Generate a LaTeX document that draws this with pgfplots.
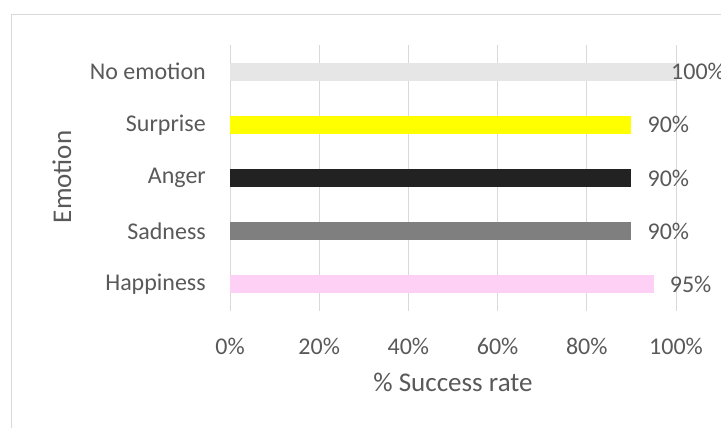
\documentclass[border=0pt]{standalone}
\usepackage{pgfplots}
\pgfplotsset{compat=1.18}
\usepackage{fontspec}
\setmainfont{Carlito}
\definecolor{txt}{HTML}{595959}
\definecolor{gridc}{HTML}{D9D9D9}
\definecolor{noemo}{HTML}{E7E6E6}
\definecolor{surp}{HTML}{FFFF00}
\definecolor{angr}{HTML}{222222}
\definecolor{sadn}{HTML}{7F7F7F}
\definecolor{happ}{HTML}{FFD0F5}
\begin{document}
\begin{tikzpicture}[x=1pt,y=1pt]
\useasboundingbox (0,0) rectangle (721,428);
\draw[color=gridc, line width=1pt] (11,0) -- (11,413) -- (721,413);
\begin{axis}[
  at={(230pt,117pt)}, anchor=south west,
  scale only axis, width=446pt, height=266pt,
  xbar, bar width=18pt, bar shift=0pt,
  xmin=0, xmax=100, ymin=-0.5, ymax=4.5,
  clip=false,
  axis line style={draw=none},
  major tick length=0pt,
  tick style={draw=none},
  xmajorgrids, major grid style={color=gridc, line width=1pt},
  xtick={0,20,...,100},
  xticklabel={\pgfmathprintnumber[assume math mode=true]{\tick}\%},
  ytick={0,1,2,3,4},
  yticklabels={Happiness,Sadness,Anger,Surprise,No emotion},
  ticklabel style={font=\fontsize{24}{29}\selectfont, text=txt},
  xticklabel style={inner sep=0pt, anchor=north, yshift=-27pt},
  yticklabel style={inner sep=0pt, anchor=east, xshift=-24pt},
  xlabel={\% Success rate},
  ylabel={Emotion},
  label style={font=\fontsize{27}{32}\selectfont, text=txt},
  xlabel style={at={(axis description cs:0.5,-0.27)}, anchor=center},
  ylabel style={at={(axis description cs:-0.3767,0.504)}, anchor=center, rotate=0},
  point meta=x,
  nodes near coords={\pgfmathprintnumber[assume math mode=true]{\pgfplotspointmeta}\%},
  every node near coord/.append style={font=\fontsize{24}{29}\selectfont, text=txt, inner sep=0pt, anchor=west, xshift=16pt},
]
\addplot[fill=happ, draw=none] coordinates {(95,0)};
\addplot[fill=sadn, draw=none] coordinates {(90,1)};
\addplot[fill=angr, draw=none] coordinates {(90,2)};
\addplot[fill=surp, draw=none] coordinates {(90,3)};
\addplot[fill=noemo, draw=none, every node near coord/.append style={xshift=-21pt}] coordinates {(100,4)};
\end{axis}
\end{tikzpicture}
\end{document}
